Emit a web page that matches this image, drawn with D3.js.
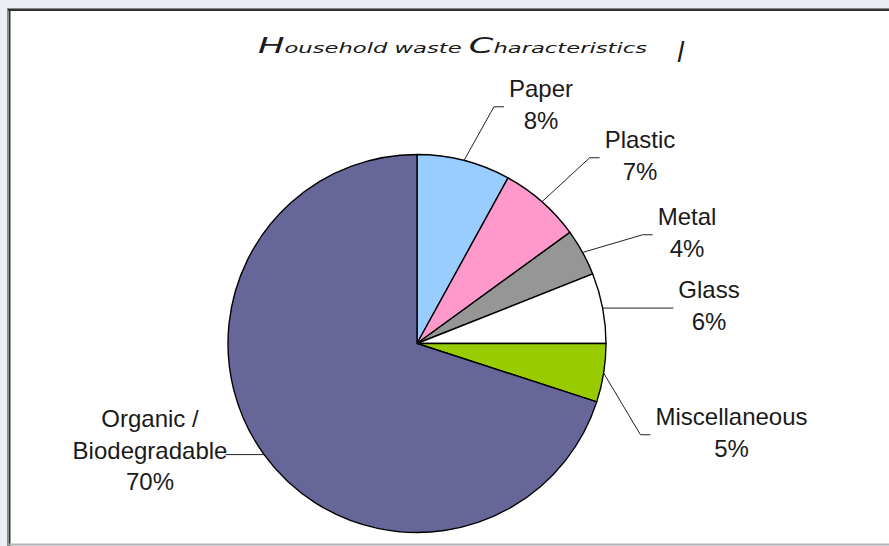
<!DOCTYPE html>
<html>
<head>
<meta charset="utf-8">
<script src="https://cdn.jsdelivr.net/npm/d3@7"></script>
<style>
  html, body { margin: 0; padding: 0; background: #fff; overflow: hidden; }
  svg { display: block; }
</style>
</head>
<body>
<svg id="chart" width="889" height="546"></svg>
<script>
// Household waste composition (percent of total)
const categories = ["Paper", "Plastic", "Metal", "Glass", "Miscellaneous", "Organic / Biodegradable"];
const shares = [8, 7, 4, 6, 5, 70];
const sliceColors = ["#99ccff", "#ff99cc", "#969696", "#ffffff", "#99cc00", "#666699"];

// Where each label block sits, relative to the pie centre: [centre x, first baseline]
const labelOffsets = [[124, -246.5], [223, -195.5], [270, -118.5], [292, -45.5], [314.5, 81.5], [-267, 83.5]];

const W = 889, H = 546;
const cx = 417, cy = 343.5, R = 189;
const lineGap = 31.5;

const svg = d3.select("#chart");

// Window-like frame around the chart area
svg.append("rect").attr("x", 0).attr("y", 0).attr("width", W).attr("height", H).attr("fill", "#eceef6");
svg.append("rect").attr("x", 9).attr("y", 9).attr("width", W).attr("height", 535).attr("fill", "#ffffff");
svg.append("line").attr("x1", 7).attr("x2", W).attr("y1", 8.5).attr("y2", 8.5).attr("stroke", "#8a8a8a").attr("stroke-width", 1);
svg.append("line").attr("x1", 8).attr("x2", W).attr("y1", 10).attr("y2", 10).attr("stroke", "#333").attr("stroke-width", 2);
svg.append("line").attr("x1", 7.5).attr("x2", 7.5).attr("y1", 8).attr("y2", H).attr("stroke", "#8a8a8a").attr("stroke-width", 1);
svg.append("line").attr("x1", 9.5).attr("x2", 9.5).attr("y1", 9).attr("y2", H).attr("stroke", "#333").attr("stroke-width", 2);
svg.append("line").attr("x1", 9).attr("x2", W).attr("y1", 544.5).attr("y2", 544.5).attr("stroke", "#b4b4b4").attr("stroke-width", 2);

// Title
const title = svg.append("text")
  .attr("x", 258).attr("y", 53)
  .attr("font-family", "DejaVu Sans")
  .attr("font-style", "italic")
  .attr("fill", "#1a1a1a")
  .attr("textLength", 389)
  .attr("lengthAdjust", "spacingAndGlyphs");
title.append("tspan").attr("font-size", 21).text("H");
title.append("tspan").attr("font-size", 13.5).text("ousehold waste ");
title.append("tspan").attr("font-size", 21).text("C");
title.append("tspan").attr("font-size", 13.5).text("haracteristics");
svg.append("text")
  .attr("transform", "translate(676,57) skewX(-12)")
  .attr("font-family", "DejaVu Sans").attr("font-weight", "bold")
  .attr("font-size", 21).attr("fill", "#1a1a1a")
  .text("|");

// Pie
const pie = d3.pie().sort(null).value(d => d.value).startAngle(0).endAngle(2 * Math.PI);
const rows = categories.map((c, i) => ({ name: c, value: shares[i], color: sliceColors[i], offset: labelOffsets[i] }));
const arcs = pie(rows);
const arc = d3.arc().innerRadius(0).outerRadius(R);
const rim = d3.arc().innerRadius(R).outerRadius(R);

const g = svg.append("g").attr("transform", `translate(${cx},${cy})`);
g.selectAll("path.slice")
  .data(arcs)
  .join("path")
  .attr("class", "slice")
  .attr("d", arc)
  .attr("fill", d => d.data.color)
  .attr("stroke", "#000")
  .attr("stroke-width", 1.4)
  .attr("stroke-linejoin", "round");

// Labels with leader lines
const labelLayer = g.append("g");

arcs.forEach(d => {
  const name = d.data.name;
  const lines = name.includes(" / ") ? [name.split(" / ")[0] + " /", name.split(" / ")[1]] : [name];
  lines.push(d.data.value + "%");
  const [tx, ty] = d.data.offset;

  const t = labelLayer.append("text")
    .attr("font-family", "Liberation Sans, Arial, sans-serif")
    .attr("font-size", 24)
    .attr("fill", "#1a1a1a")
    .attr("text-anchor", "middle");
  lines.forEach((ln, k) => {
    t.append("tspan").attr("x", tx).attr("y", ty + k * lineGap).text(ln);
  });

  const bb = t.node().getBBox();
  const start = rim.centroid(d);
  const right = tx > 0;
  const endY = (ty + ty + (lines.length - 1) * lineGap) / 2 - 6;
  const endX = right ? bb.x - 5 : bb.x + bb.width - 2;
  const elbowX = right ? endX - 10 : endX + 10;
  const pts = Math.abs(endY - start[1]) < 6
    ? [start, [endX, start[1]]]
    : [start, [elbowX, endY], [endX, endY]];
  g.append("path")
    .attr("d", d3.line()(pts))
    .attr("fill", "none")
    .attr("stroke", "#222")
    .attr("stroke-width", 1);
});
</script>
</body>
</html>
